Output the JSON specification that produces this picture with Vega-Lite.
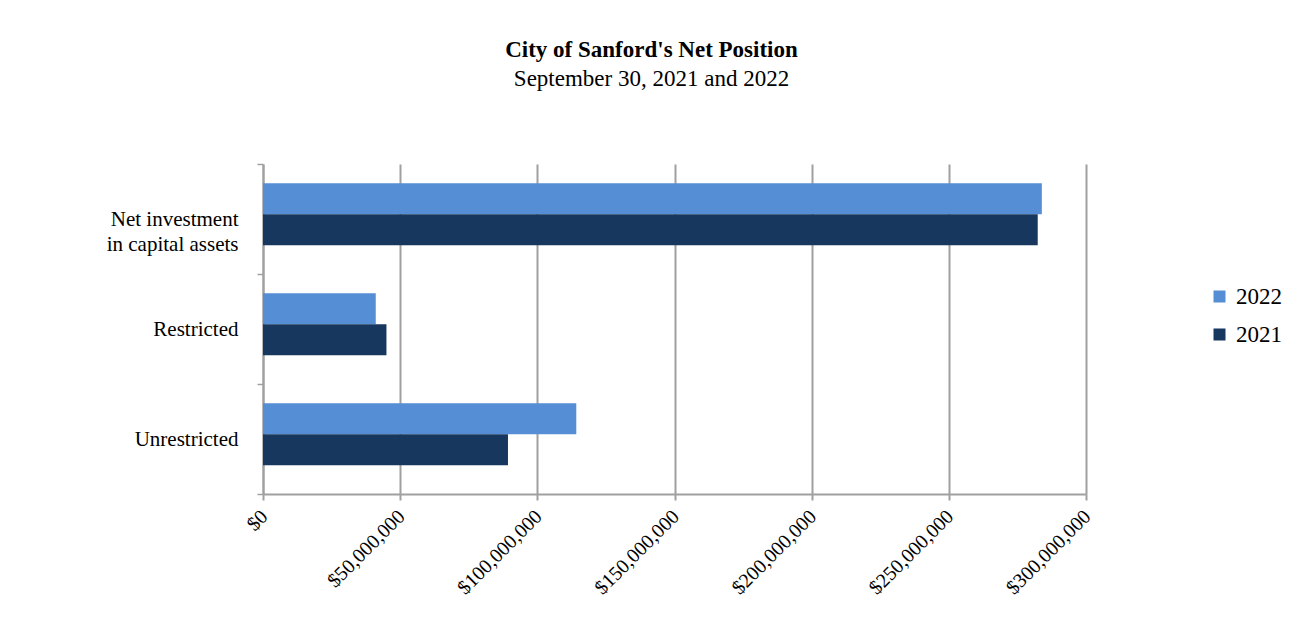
{
  "$schema": "https://vega.github.io/schema/vega-lite/v6.json",
  "width": 823,
  "height": 330,
  "autosize": {"type": "none"},
  "padding": {"left": 263, "top": 164, "right": 210, "bottom": 124},
  "background": "white",
  "title": {
    "text": "City of Sanford's Net Position",
    "subtitle": "September 30, 2021 and 2022",
    "font": "Liberation Serif",
    "fontSize": 23,
    "fontWeight": "bold",
    "color": "black",
    "subtitleFont": "Liberation Serif",
    "subtitleFontSize": 23,
    "subtitleColor": "black",
    "subtitlePadding": 6,
    "anchor": "middle",
    "frame": "group",
    "dx": -23,
    "offset": 62
  },
  "data": {
    "values": [
      {"category": "Net investment in capital assets", "year": "2022", "value": 283900000},
      {"category": "Net investment in capital assets", "year": "2021", "value": 282400000},
      {"category": "Restricted", "year": "2022", "value": 41100000},
      {"category": "Restricted", "year": "2021", "value": 45000000},
      {"category": "Unrestricted", "year": "2022", "value": 114200000},
      {"category": "Unrestricted", "year": "2021", "value": 89300000}
    ]
  },
  "mark": {"type": "bar"},
  "encoding": {
    "y": {
      "field": "category",
      "type": "nominal",
      "sort": ["Net investment in capital assets", "Restricted", "Unrestricted"],
      "scale": {"paddingInner": 0, "paddingOuter": 0},
      "axis": {
        "title": null,
        "labelFont": "Liberation Serif",
        "labelFontSize": 21,
        "labelColor": "black",
        "labelExpr": "datum.label == 'Net investment in capital assets' ? ['Net investment', 'in capital assets'] : datum.label",
        "labelLineHeight": 25,
        "domainColor": "#A0A0A0",
        "domainWidth": 2,
        "tickColor": "#A0A0A0",
        "tickWidth": 1.5,
        "tickSize": 6,
        "tickBand": "extent",
        "labelPadding": 19,
        "grid": false
      }
    },
    "yOffset": {
      "field": "year",
      "type": "nominal",
      "sort": ["2022", "2021"],
      "scale": {"paddingInner": 0, "paddingOuter": 0.77, "align": 0.4}
    },
    "x": {
      "field": "value",
      "type": "quantitative",
      "scale": {"domain": [0, 300000000]},
      "axis": {
        "title": null,
        "format": "$,.0f",
        "values": [0, 50000000, 100000000, 150000000, 200000000, 250000000, 300000000],
        "labelAngle": -45,
        "labelAlign": "right",
        "labelBaseline": "top",
        "labelFont": "Liberation Serif",
        "labelFontSize": 20,
        "labelColor": "black",
        "labelOverlap": false,
        "labelPadding": 6,
        "labelOffset": -6,
        "grid": true,
        "gridColor": "#A0A0A0",
        "gridWidth": 2,
        "domainColor": "#A0A0A0",
        "domainWidth": 2,
        "tickColor": "#A0A0A0",
        "tickWidth": 2,
        "tickSize": 6
      }
    },
    "color": {
      "field": "year",
      "type": "nominal",
      "scale": {"domain": ["2022", "2021"], "range": ["#558ED5", "#17375E"]},
      "legend": {
        "title": null,
        "orient": "none",
        "legendX": 945,
        "legendY": 121,
        "padding": 0,
        "labelFont": "Liberation Serif",
        "labelFontSize": 23,
        "labelColor": "black",
        "symbolType": "square",
        "symbolSize": 144,
        "symbolStrokeWidth": 0,
        "symbolOpacity": 1,
        "rowPadding": 14,
        "labelOffset": 5
      }
    }
  },
  "config": {"view": {"stroke": null}}
}
